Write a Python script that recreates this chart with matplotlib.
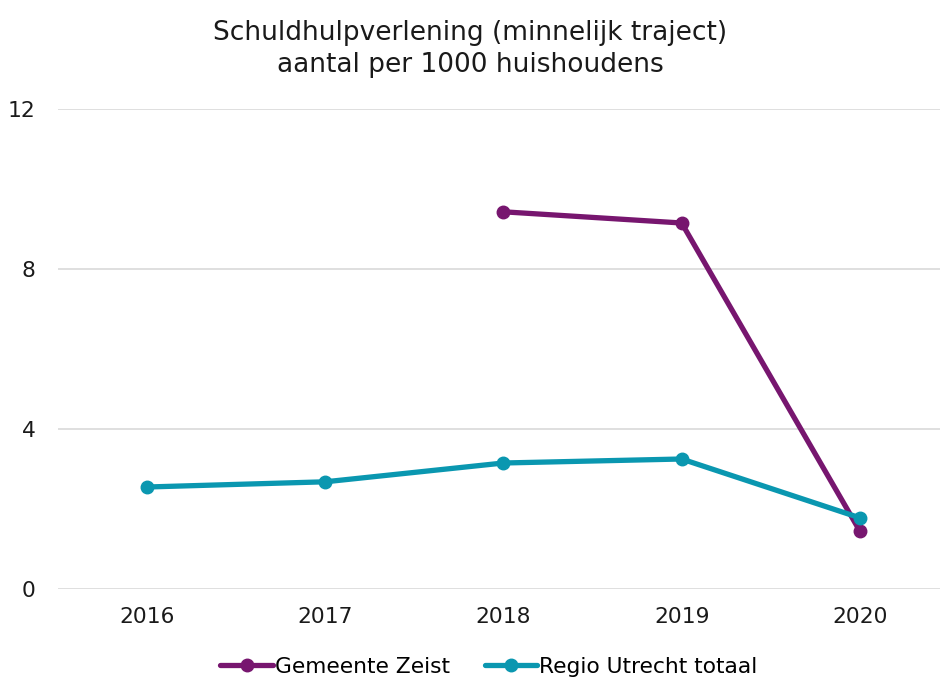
import matplotlib
matplotlib.use("Agg")
import matplotlib.pyplot as plt

years = ["2016", "2017", "2018", "2019", "2020"]
zeist_years = ["2018", "2019", "2020"]
zeist = [9.43, 9.15, 1.45]
regio = [2.55, 2.68, 3.15, 3.25, 1.78]
yticks = [0, 4, 8, 12]

purple = "#77166F"
teal = "#0A97B0"

plt.rcParams["font.family"] = ["DejaVu Sans"]
fig = plt.figure(figsize=(9.4, 6.8), dpi=100)
ax = fig.add_axes([58/940, 91/680, (940-58)/940, 480/680])

xpos = list(range(len(years)))
zx = [years.index(y) for y in zeist_years]
ax.plot(zx, zeist, color=purple, lw=3.8, marker="o", ms=9, label="Gemeente Zeist", solid_capstyle="round")
ax.plot(xpos, regio, color=teal, lw=3.8, marker="o", ms=9, label="Regio Utrecht totaal", solid_capstyle="round")

ax.set_xlim(-0.5, 4.45)
ax.set_ylim(0, 12)
ax.set_yticks(yticks)
ax.set_yticklabels([str(v) for v in yticks])
ax.set_xticks(xpos)
ax.set_xticklabels(years)
ax.tick_params(axis="both", length=0, labelsize=15.7, colors="#1a1a1a")
ax.tick_params(axis="y", pad=16)
ax.tick_params(axis="x", pad=13)
ax.grid(axis="y", color="#d9d9d9", lw=1.2)
ax.set_axisbelow(True)
for s in ax.spines.values():
    s.set_visible(False)

fig.text(0.5, 1 - 33/680, "Schuldhulpverlening (minnelijk traject)", ha="center", va="center", fontsize=19, color="#1a1a1a")
fig.text(0.5, 1 - 65/680, "aantal per 1000 huishoudens", ha="center", va="center", fontsize=19, color="#1a1a1a")

fig.legend(loc="center", bbox_to_anchor=(489/940, 1 - 667/680), ncol=2, frameon=False, fontsize=15.7,
           handlelength=2.4, columnspacing=1.6, handletextpad=0.1)

fig.savefig("out.png", dpi=100)
